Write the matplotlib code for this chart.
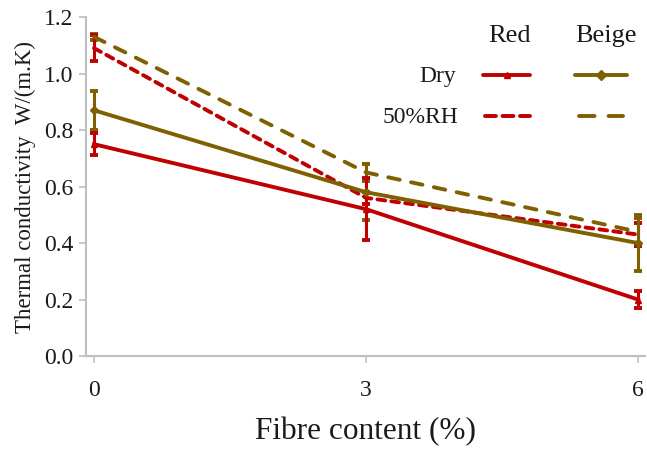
import numpy as np
import matplotlib.pyplot as plt
from matplotlib.lines import Line2D

plt.rcParams['font.family'] = ['Liberation Serif', 'DejaVu Serif']

fibre = [0, 3, 6]
red_dry = [0.75, 0.52, 0.20]
red_dry_err = [0.04, 0.11, 0.03]
beige_dry = [0.87, 0.58, 0.40]
beige_dry_err = [0.07, 0.10, 0.10]
red_rh = [1.09, 0.56, 0.43]
red_rh_err = [0.045, 0.02, 0.04]
beige_rh = [1.13, 0.65, 0.44]
beige_rh_err = [0.01, 0.03, 0.05]

RED = '#C00000'
BEIGE = '#7F6000'
GREY = '#BFBFBF'
TXT = '#1a1a1a'

fig = plt.figure(figsize=(6.47, 4.49), dpi=100)
ax = fig.add_axes([0.133, 0.207, 0.864, 0.755])

kw = dict(capsize=3, capthick=2.8, elinewidth=2.2, lw=2.8)
ax.errorbar(fibre, beige_rh, yerr=beige_rh_err, color=BEIGE, ls=(0, (3, 3)),
            dash_capstyle='round', **kw)
ax.errorbar(fibre, red_rh, yerr=red_rh_err, color=RED, ls=(0, (2.0, 1.6)),
            dash_capstyle='round', **kw)
ax.errorbar(fibre, beige_dry, yerr=beige_dry_err, color=BEIGE, marker='D', ms=4, **kw)
ax.errorbar(fibre, red_dry, yerr=red_dry_err, color=RED, marker='^', ms=5, **kw)

ax.set_xlim(-0.088, 6.077)
ax.set_ylim(0, 1.2)
ax.set_xticks(fibre)
ax.set_yticks(np.arange(0, 1.21, 0.2))
ax.yaxis.set_major_formatter(plt.FormatStrFormatter('%.1f'))
for s in ['top', 'right']:
    ax.spines[s].set_visible(False)
for s in ['left', 'bottom']:
    ax.spines[s].set_color(GREY)
    ax.spines[s].set_linewidth(1.5)
ax.tick_params(colors=GREY, width=1.2, length=5, labelsize=17, labelcolor=TXT)
ax.tick_params(axis='x', pad=12)
ax.tick_params(axis='y', pad=4)

ax.set_xlabel('Fibre content (%)', fontsize=22.5, color=TXT, labelpad=12)
ax.set_ylabel('Thermal conductivity  W/(m.K)', fontsize=16.5, color=TXT, labelpad=6)

# custom legend
t = ax.transAxes
def px(x, y):
    return ((x - 86) / 559, (356 - y) / 339)

ax.text(*px(509, 36), 'Red', transform=t, ha='center', va='center', fontsize=19, color=TXT)
ax.text(*px(606, 36), 'Beige', transform=t, ha='center', va='center', fontsize=19, color=TXT)
ax.text(*px(456, 76), 'Dry', transform=t, ha='right', va='center', fontsize=17, color=TXT)
ax.text(*px(458, 117), '50%RH', transform=t, ha='right', va='center', fontsize=17, color=TXT)

legend_rows = [
    ((483, 530), 75, RED, '-', '^'),
    ((575, 627), 75, BEIGE, '-', 'D'),
    ((485, 530), 116, RED, (0, (2.8, 1.7)), None),
    ((579, 623), 116, BEIGE, (0, (4.0, 3.6)), None),
]
for (x0, x1), y, c, ls, m in legend_rows:
    a = px(x0, y)
    b = px(x1, y)
    ax.add_line(Line2D([a[0], b[0]], [a[1], b[1]], transform=t, color=c, ls=ls, lw=2.8,
                       dash_capstyle='round', solid_capstyle='round', clip_on=False))
    if m:
        ax.add_line(Line2D([(a[0] + b[0]) / 2], [a[1]], transform=t, color=c, marker=m,
                           ms=5, clip_on=False))

fig.savefig('out.png', dpi=100)
